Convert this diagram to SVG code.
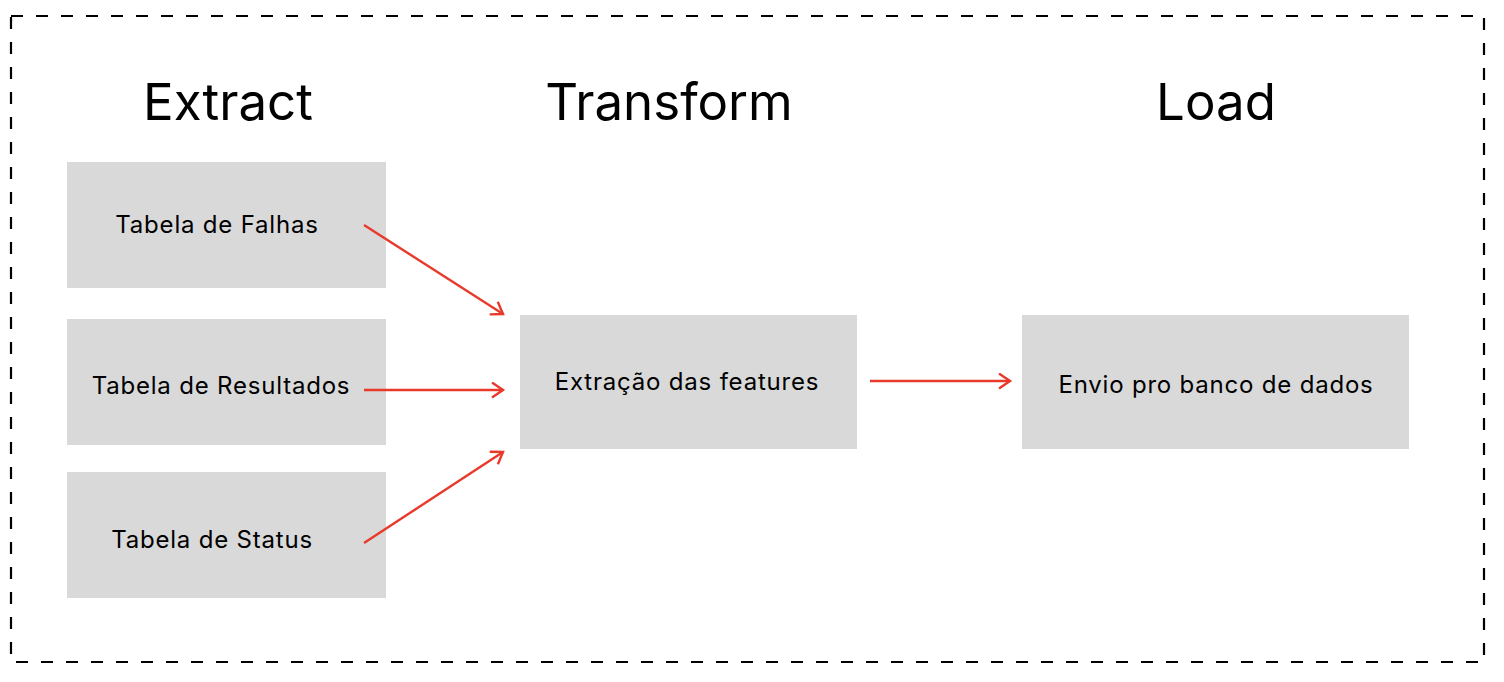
<svg xmlns="http://www.w3.org/2000/svg" width="1504" height="682" viewBox="0 0 1504 682">
<style>
.box{fill:#d9d9d9}
.lbl{font-family:Inter,"Liberation Sans",sans-serif;font-size:24px;letter-spacing:0.8px;fill:#000;text-anchor:middle}
.hd{font-family:Inter,"Liberation Sans",sans-serif;font-size:51px;fill:#000;text-anchor:middle}
.conn{stroke:#e8392b;stroke-width:2.4;fill:none;marker-end:url(#ah)}
</style>
<defs>
<marker id="ah" markerWidth="16" markerHeight="18" refX="13" refY="8.5" orient="auto" markerUnits="userSpaceOnUse">
<path d="M2,1 L13,8.5 L2,16" fill="none" stroke="#e8392b" stroke-width="2.4"/>
</marker>
</defs>
<rect x="11" y="16" width="1473" height="646" fill="none" stroke="#000" stroke-width="2.2" stroke-dasharray="12 13"/>
<g id="headings">
<text class="hd" x="228" y="120">Extract</text>
<text class="hd" x="669" y="120">Transform</text>
<text class="hd" x="1216" y="120">Load</text>
</g>
<g id="falhas"><rect class="box" x="67" y="162" width="319" height="126"/><text class="lbl" x="217" y="233">Tabela de Falhas</text></g>
<g id="resultados"><rect class="box" x="67" y="319" width="319" height="126"/><text class="lbl" x="221" y="394">Tabela de Resultados</text></g>
<g id="status"><rect class="box" x="67" y="472" width="319" height="126"/><text class="lbl" x="212" y="548">Tabela de Status</text></g>
<g id="extracao"><rect class="box" x="520" y="315" width="337" height="134"/><text class="lbl" x="687" y="390">Extração das features</text></g>
<g id="envio"><rect class="box" x="1022" y="315" width="387" height="134"/><text class="lbl" x="1216" y="393">Envio pro banco de dados</text></g>
<g id="connectors">
<line class="conn" x1="364" y1="225" x2="503" y2="314"/>
<line class="conn" x1="364" y1="390" x2="503" y2="390"/>
<line class="conn" x1="364" y1="543" x2="503" y2="452"/>
<line class="conn" x1="870" y1="381" x2="1010" y2="381"/>
</g>
</svg>
